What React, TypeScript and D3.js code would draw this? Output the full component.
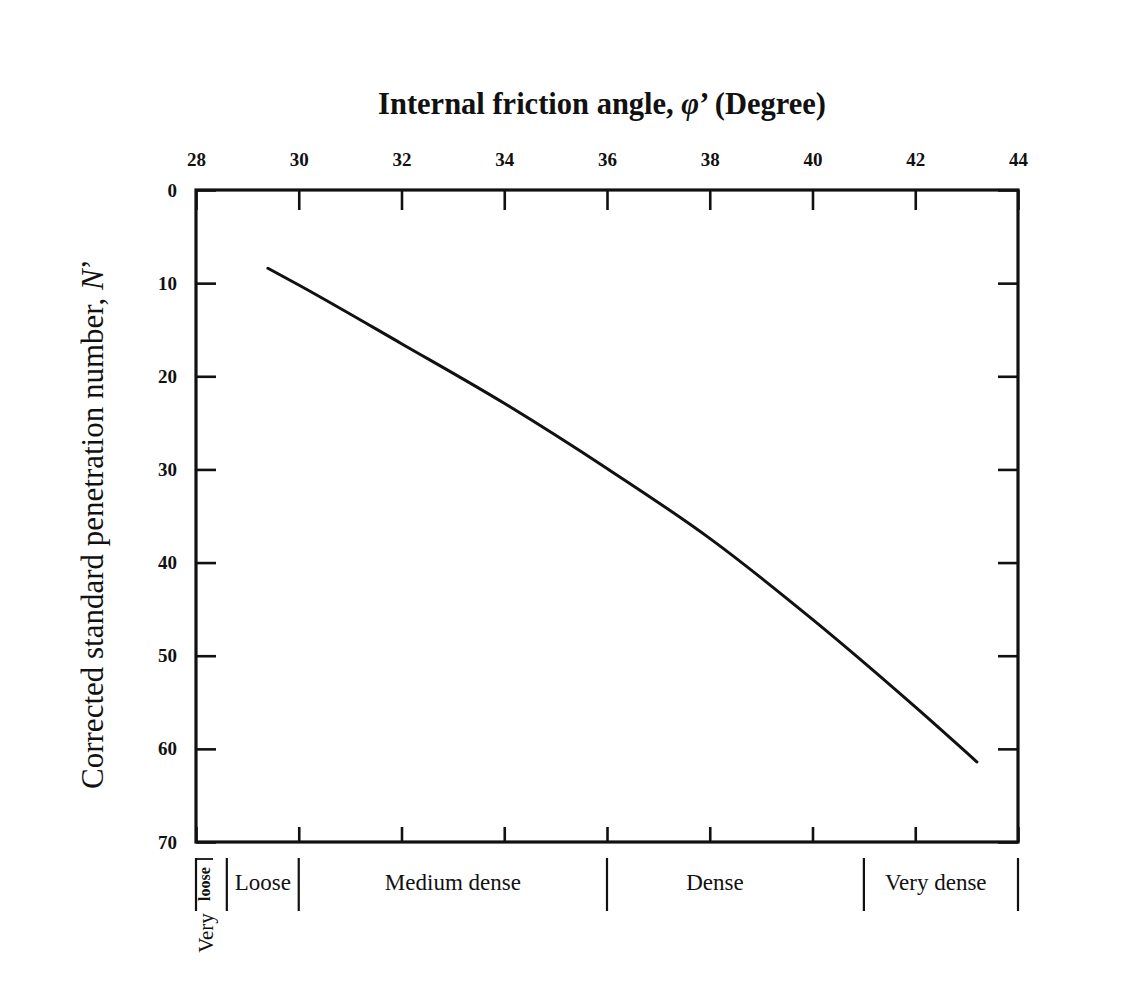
import { useEffect, useRef } from "react";
import * as d3 from "d3";

const W = 1139;
const H = 1007;
const FONT = "'Liberation Serif', 'DejaVu Serif', serif";

// curve: friction angle (deg) vs corrected N
const phi = [29.4, 30, 32, 34, 36, 38, 40, 42, 43.2];
const nCorr = [8.4, 10.2, 16.5, 22.9, 29.9, 37.4, 46.1, 55.5, 61.4];

const xTicks = [28, 30, 32, 34, 36, 38, 40, 42, 44];
const yTicks = [0, 10, 20, 30, 40, 50, 60, 70];

// density classes along the bottom
const zoneBounds = [28, 28.6, 30, 36, 41, 44];
const zoneNames = ["Loose", "Medium dense", "Dense", "Very dense"];
const zoneLabelAt = [29.3, 33, 38.1, 42.4];

export default function App() {
  const ref = useRef<SVGSVGElement>(null);

  useEffect(() => {
    const svg = d3.select(ref.current);
    svg.selectAll("*").remove();

    const x = d3.scaleLinear().domain([28, 44]).range([196, 1018]);
    const y = d3.scaleLinear().domain([0, 70]).range([190, 842]);

    const top = svg.append("g").attr("transform", `translate(0,${y(0)})`)
      .call(d3.axisTop(x).tickValues(xTicks).tickSizeInner(-20).tickSizeOuter(0).tickPadding(24));
    const left = svg.append("g").attr("transform", `translate(${x(28)},0)`)
      .call(d3.axisLeft(y).tickValues(yTicks).tickSizeInner(-20).tickSizeOuter(0).tickPadding(19));
    const right = svg.append("g").attr("transform", `translate(${x(44)},0)`)
      .call(d3.axisRight(y).tickValues(yTicks).tickSizeInner(-20).tickSizeOuter(0).tickFormat(() => ""));
    const bottom = svg.append("g").attr("transform", `translate(0,${y(70)})`)
      .call(d3.axisBottom(x).tickValues(xTicks).tickSizeInner(-15).tickSizeOuter(0).tickFormat(() => ""));

    [top, left, right, bottom].forEach(g => {
      g.select(".domain").remove();
      g.selectAll("line").attr("stroke", "#111").attr("stroke-width", 2.6);
      g.selectAll("text")
        .attr("font-family", FONT)
        .attr("font-size", 19)
        .attr("font-weight", "bold")
        .attr("fill", "#111");
    });

    // frame
    svg.append("rect")
      .attr("x", x(28)).attr("y", y(0))
      .attr("width", x(44) - x(28)).attr("height", y(70) - y(0))
      .attr("fill", "none").attr("stroke", "#111").attr("stroke-width", 3.2);

    const pts = phi.map((p, i) => [p, nCorr[i]] as [number, number]);
    const line = d3.line<[number, number]>()
      .x(d => x(d[0]))
      .y(d => y(d[1]))
      .curve(d3.curveMonotoneX);
    svg.append("path")
      .attr("d", line(pts))
      .attr("fill", "none")
      .attr("stroke", "#111")
      .attr("stroke-width", 3)
      .attr("stroke-linecap", "round");

    // zone separators + labels
    svg.selectAll(".zb").data(zoneBounds).enter().append("line")
      .attr("x1", d => x(d)).attr("x2", d => x(d))
      .attr("y1", 858).attr("y2", 911)
      .attr("stroke", "#111").attr("stroke-width", 2.2);

    svg.selectAll(".zl").data(zoneNames).enter().append("text")
      .attr("x", (_, i) => x(zoneLabelAt[i]))
      .attr("y", 890)
      .attr("text-anchor", "middle")
      .attr("font-family", FONT)
      .attr("font-size", 23)
      .attr("fill", "#111")
      .text(d => d);

    // "Very loose" squeezed in the first slot
    svg.append("text")
      .attr("transform", `translate(${x(28) + 14},884) rotate(-90)`)
      .attr("text-anchor", "middle")
      .attr("font-family", FONT).attr("font-size", 16).attr("font-weight", "bold").attr("fill", "#111")
      .text("loose");
    svg.append("line")
      .attr("x1", x(28)).attr("x2", x(28) + 17)
      .attr("y1", 859).attr("y2", 859)
      .attr("stroke", "#111").attr("stroke-width", 1.8);
    svg.append("text")
      .attr("transform", `translate(${x(28) + 17},933) rotate(-90)`)
      .attr("text-anchor", "middle")
      .attr("font-family", FONT).attr("font-size", 21).attr("fill", "#111")
      .text("Very");

    // titles
    const title = svg.append("text")
      .attr("x", 602).attr("y", 114)
      .attr("text-anchor", "middle")
      .attr("font-family", FONT).attr("font-size", 30.5).attr("font-weight", "bold").attr("fill", "#111");
    title.append("tspan").text("Internal friction angle, ");
    title.append("tspan").attr("font-style", "italic").text("\u03C6");
    title.append("tspan").text("\u2019 (Degree)");

    const ylab = svg.append("text")
      .attr("transform", "translate(103,524) rotate(-90)")
      .attr("text-anchor", "middle")
      .attr("font-family", FONT).attr("font-size", 31).attr("fill", "#111");
    ylab.append("tspan").text("Corrected standard penetration number, ");
    ylab.append("tspan").attr("font-style", "italic").text("N");
    ylab.append("tspan").text("\u2019");
  }, []);

  return (
    <svg
      ref={ref}
      width={W}
      height={H}
      style={{ position: "absolute", left: 0, top: 0, background: "#fff" }}
    />
  );
}
